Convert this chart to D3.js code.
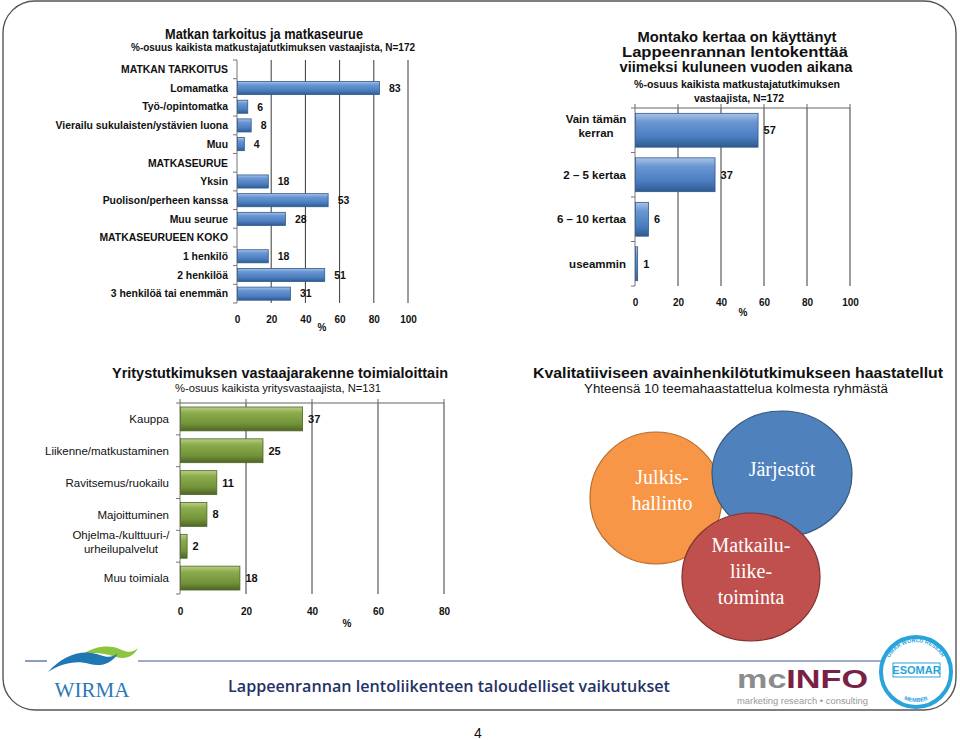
<!DOCTYPE html>
<html><head><meta charset="utf-8">
<script src="https://cdn.jsdelivr.net/npm/d3@7"></script>
<style>
body{margin:0;background:#fff}
svg{display:block}
text{font-family:"Liberation Sans",Arial,sans-serif;fill:#111}
</style>
</head><body>
<svg id="c" width="960" height="740"></svg>
<script>
// ---------- DATA ----------
const tripCategories = ["MATKAN TARKOITUS","Lomamatka","Työ-/opintomatka","Vierailu sukulaisten/ystävien luona","Muu","MATKASEURUE","Yksin","Puolison/perheen kanssa","Muu seurue","MATKASEURUEEN KOKO","1 henkilö","2 henkilöä","3 henkilöä tai enemmän"];
const tripValues = [null,83,6,8,4,null,18,53,28,null,18,51,31];
const tripTicks = [0,20,40,60,80,100];

const airportCategories = ["Vain tämän\nkerran","2 – 5 kertaa","6 – 10 kertaa","useammin"];
const airportValues = [57,37,6,1];
const airportTicks = [0,20,40,60,80,100];

const industryCategories = ["Kauppa","Liikenne/matkustaminen","Ravitsemus/ruokailu","Majoittuminen","Ohjelma-/kulttuuri-/\nurheilupalvelut","Muu toimiala"];
const industryValues = [37,25,11,8,2,18];
const industryTicks = [0,20,40,60,80];

const groupNames = ["Julkis-\nhallinto","Järjestöt","Matkailu-\nliike-\ntoiminta"];

// ---------- SETUP ----------
const svg = d3.select("#c");
const defs = svg.append("defs");
function grad(id, stops){
  const g = defs.append("linearGradient").attr("id",id).attr("x1",0).attr("y1",0).attr("x2",0).attr("y2",1);
  stops.forEach(s=>g.append("stop").attr("offset",s[0]).attr("stop-color",s[1]));
}
grad("gBlue",[[0,"#a9c4e8"],[0.25,"#6b97d3"],[0.7,"#4a7dbf"],[1,"#2f5a8f"]]);
grad("gGreen",[[0,"#b8cf86"],[0.25,"#8bab4c"],[0.7,"#73933a"],[1,"#4e6526"]]);

svg.append("rect").attr("x",3).attr("y",1).attr("width",953).attr("height",709)
  .attr("rx",32).attr("fill","none").attr("stroke","#555").attr("stroke-width",1.4);

function multiText(sel, str, x, lh){
  const lines = str.split("\n");
  lines.forEach((l,i)=>{
    sel.append("tspan").attr("x",x).attr("dy", i===0 ? (-(lines.length-1)*lh/2)+"px" : lh+"px").text(l);
  });
}

function barChart(o){
  const x = d3.scaleLinear().domain([0,o.max]).range([o.x0,o.x1]);
  const y = d3.scaleBand().domain(d3.range(o.cats.length)).range([o.y0,o.y1])
    .paddingInner(o.pad).paddingOuter(o.pad/2);
  const g = svg.append("g");
  g.selectAll(".grid").data(o.ticks.slice(1)).join("line")
    .attr("x1",d=>x(d)).attr("x2",d=>x(d)).attr("y1",o.y0).attr("y2",o.y1)
    .attr("stroke","#3a3a3a").attr("stroke-width",1);
  if(o.topLine){
    g.append("line").attr("x1",x(0)).attr("x2",x(o.max)).attr("y1",o.y0).attr("y2",o.y0)
      .attr("stroke","#666").attr("stroke-width",1.2);
    g.selectAll(".tt").data(o.ticks).join("line")
      .attr("x1",d=>x(d)).attr("x2",d=>x(d)).attr("y1",o.y0-4).attr("y2",o.y0).attr("stroke","#666");
  }
  g.append("line").attr("x1",x(0)).attr("x2",x(0)).attr("y1",o.y0).attr("y2",o.y1).attr("stroke","#777");
  const step = y.step();
  g.selectAll(".lt").data(d3.range(o.cats.length+1)).join("line")
    .attr("x1",x(0)-4).attr("x2",x(0)).attr("y1",i=>o.y0+i*step).attr("y2",i=>o.y0+i*step).attr("stroke","#777");
  const data = o.vals.map((v,i)=>({v,i})).filter(d=>d.v!==null);
  g.selectAll(".bar").data(data).join("rect")
    .attr("x",x(0)+0.5).attr("y",d=>y(d.i)).attr("height",y.bandwidth())
    .attr("width",d=>Math.max(1.5,x(d.v)-x(0)))
    .attr("fill",`url(#${o.gradId})`).attr("stroke",o.stroke).attr("stroke-width",0.8);
  g.selectAll(".val").data(data).join("text")
    .attr("x",d=>x(d.v)+o.valOff).attr("y",d=>y(d.i)+y.bandwidth()/2).attr("dy","0.36em")
    .attr("font-size",o.valSize).attr("font-weight","bold").text(d=>d.v);
  o.cats.forEach((c,i)=>{
    const multi = c.includes("\n");
    const t = g.append("text").attr("y",y(i)+y.bandwidth()/2).attr("dy","0.36em")
      .attr("font-size",o.catSize).attr("font-weight",o.catWeight||"normal");
    if(multi){
      t.attr("text-anchor","middle");
      multiText(t,c,o.multiX,o.catSize*1.2);
    } else {
      t.attr("text-anchor","end").attr("x",o.labelX).text(c);
    }
  });
  const ax = g.append("g").attr("transform",`translate(0,${o.tickY})`)
    .call(d3.axisBottom(x).tickValues(o.ticks).tickSize(0).tickFormat(d3.format("d")));
  ax.select(".domain").remove();
  ax.selectAll("text").attr("y",0).attr("dy","0.36em").attr("font-size",o.tickSize)
    .attr("font-weight","bold").attr("font-family","Liberation Sans, Arial, sans-serif").attr("fill","#111");
  g.append("text").attr("x",o.pctX).attr("y",o.pctY).attr("text-anchor","middle")
    .attr("font-size",o.tickSize).attr("font-weight","bold").text("%");
}

function title(x,yb,str,size,weight,len){
  const t = svg.append("text").attr("x",x).attr("y",yb).attr("text-anchor","middle")
    .attr("font-size",size).attr("font-weight",weight).text(str);
  if(len) t.attr("textLength",len).attr("lengthAdjust","spacingAndGlyphs");
  return t;
}

// ---------- CHART 1 ----------
title(264,39,"Matkan tarkoitus ja matkaseurue",15,"bold",198);
title(273,51,"%-osuus kaikista matkustajatutkimuksen vastaajista, N=172",11,"bold",284);
barChart({cats:tripCategories, vals:tripValues, max:100, ticks:tripTicks,
  x0:237, x1:408, y0:60, y1:303, pad:0.3, gradId:"gBlue", stroke:"#2f5a8f",
  valOff:10, valSize:10.5, catSize:10.4, catWeight:"bold", labelX:228,
  tickY:319, tickSize:10, pctX:322, pctY:331, topLine:false});

// ---------- CHART 2 ----------
title(737,42,"Montako kertaa on käyttänyt",14,"bold",199);
title(735,57,"Lappeenrannan lentokenttää",14,"bold",226);
title(736,72,"viimeksi kuluneen vuoden aikana",14,"bold",233);
title(737,88,"%-osuus kaikista matkustajatutkimuksen",11,"bold",206);
title(739,102,"vastaajista, N=172",11,"bold",90);
barChart({cats:airportCategories, vals:airportValues, max:100, ticks:airportTicks,
  x0:635, x1:850, y0:108, y1:286, pad:0.24, gradId:"gBlue", stroke:"#2f5a8f",
  valOff:6, valSize:11, catSize:11.5, catWeight:"bold", labelX:626, multiX:596,
  tickY:302, tickSize:10, pctX:743, pctY:316, topLine:true});

// ---------- CHART 3 ----------
title(280,378,"Yritystutkimuksen vastaajarakenne toimialoittain",15,"bold",336);
title(278,392,"%-osuus kaikista yritysvastaajista, N=131",11,"normal",206);
barChart({cats:industryCategories, vals:industryValues, max:80, ticks:industryTicks,
  x0:180, x1:444, y0:403, y1:594, pad:0.25, gradId:"gGreen", stroke:"#4e6526",
  valOff:6, valSize:11, catSize:11.5, catWeight:"normal", labelX:169, multiX:121,
  tickY:611, tickSize:10, pctX:347, pctY:627, topLine:true});

// ---------- CHART 4 ----------
title(738,378,"Kvalitatiiviseen avainhenkilötutkimukseen haastatellut",14,"bold",410);
title(736,393,"Yhteensä 10 teemahaastattelua kolmesta ryhmästä",12.5,"normal",304);
const bubbles = [
  {name:groupNames[0], cx:656, cy:498, rx:66, ry:66, fill:"#f79646", stroke:"#b66d2e", ty:497, tx:662},
  {name:groupNames[1], cx:782, cy:474, rx:70, ry:63, fill:"#4f81bd", stroke:"#35597f", ty:476, tx:782},
  {name:groupNames[2], cx:751, cy:577, rx:69, ry:64, fill:"#c0504d", stroke:"#7f3231", ty:578, tx:751}
];
bubbles.forEach(b=>{
  svg.append("ellipse").attr("cx",b.cx).attr("cy",b.cy).attr("rx",b.rx).attr("ry",b.ry)
    .attr("fill",b.fill).attr("stroke",b.stroke).attr("stroke-width",1.2);
  const t = svg.append("text").attr("y",b.ty).attr("dy","0.35em").attr("text-anchor","middle")
    .attr("font-size",20)
    .style("font-family","'Liberation Serif','DejaVu Serif',serif").style("fill","#fff");
  multiText(t,b.name,b.tx,26);
});

// ---------- FOOTER ----------
svg.append("line").attr("x1",25).attr("x2",47).attr("y1",661).attr("y2",661).attr("stroke","#3d5a99").attr("stroke-width",1.2);
svg.append("line").attr("x1",138).attr("x2",882).attr("y1",661).attr("y2",661).attr("stroke","#3d5a99").attr("stroke-width",1.2);
svg.append("path").attr("d","M83,654 C95,646 110,644 122,650 C128,653 134,652 138,648 C134,656 126,660 116,657 C104,653 94,652 83,654 Z").attr("fill","#8cc63f");
svg.append("path").attr("d","M48,672 C62,656 82,648 100,655 C108,658 114,657 118,653 C112,664 100,667 90,664 C76,660 62,663 48,672 Z").attr("fill","#1f78b4");
svg.append("text").attr("x",92).attr("y",697).attr("text-anchor","middle").attr("font-size",21)
  .style("font-family","'Liberation Serif',serif").style("fill","#2a7ab8").text("WIRMA")
  .attr("textLength",75).attr("lengthAdjust","spacingAndGlyphs");
svg.append("text").attr("x",228).attr("y",692).attr("font-size",17).attr("font-weight",600)
  .style("font-family","'Open Sans',sans-serif").style("fill","#263266")
  .attr("textLength",442).attr("lengthAdjust","spacingAndGlyphs")
  .text("Lappeenrannan lentoliikenteen taloudelliset vaikutukset");
const mc = svg.append("text").attr("x",737).attr("y",688).attr("font-size",26).attr("font-weight","bold")
  .attr("textLength",131).attr("lengthAdjust","spacingAndGlyphs");
mc.append("tspan").style("fill","#8c8c8c").text("mc");
mc.append("tspan").style("fill","#7a1f45").text("INFO");
svg.append("text").attr("x",737).attr("y",704).attr("font-size",8.5).style("fill","#999")
  .attr("textLength",131).attr("lengthAdjust","spacingAndGlyphs").text("marketing research • consulting");
// ESOMAR seal (curved texts in local groups)
svg.append("circle").attr("cx",916).attr("cy",672).attr("r",35).attr("fill","#fff").attr("stroke","#29a3db").attr("stroke-width",4);
const sealTop = svg.append("g").attr("transform","translate(886,640)");
sealTop.append("path").attr("id","arcTop").attr("d","M4.1,17 A30,30 0 0 1 55.9,17").attr("fill","none");
sealTop.append("text").attr("font-size",5.5).attr("font-weight","bold").style("fill","#29a3db")
  .append("textPath").attr("href","#arcTop").attr("startOffset","50%").attr("text-anchor","middle").text("ESOMAR WORLD RESEARCH");
const sealBot = svg.append("g").attr("transform","translate(896,700)");
sealBot.append("path").attr("id","arcBot").attr("d","M2,-4 A30,30 0 0 0 38,-4").attr("fill","none");
sealBot.append("text").attr("font-size",5.5).attr("font-weight","bold").style("fill","#29a3db")
  .append("textPath").attr("href","#arcBot").attr("startOffset","50%").attr("text-anchor","middle").text("MEMBER");
svg.append("rect").attr("x",893).attr("y",663).attr("width",47).attr("height",14).attr("fill","#fff").attr("stroke","#29a3db").attr("stroke-width",1);
svg.append("text").attr("x",916.5).attr("y",674).attr("text-anchor","middle").attr("font-size",11).attr("font-weight","bold")
  .style("fill","#29a3db").text("ESOMAR");
svg.append("text").attr("x",478).attr("y",738).attr("text-anchor","middle").attr("font-size",14).text("4");
</script>
</body></html>
